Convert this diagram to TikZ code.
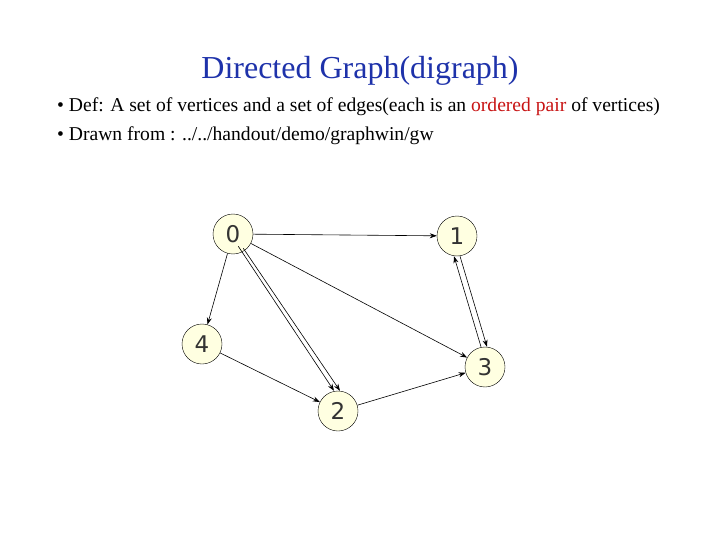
\documentclass[tikz,border=0pt]{standalone}
\usepackage{fontspec}
\setmainfont{Liberation Serif}
\newfontfamily\nodefont{DejaVu Sans}
\usetikzlibrary{arrows.meta}
\definecolor{titleblue}{RGB}{30,50,170}
\definecolor{nodefill}{RGB}{255,255,225}
\definecolor{ordred}{RGB}{200,20,20}
\begin{document}
\begin{tikzpicture}[x=1pt,y=-1pt,
  vert/.style={circle,draw=black,fill=nodefill,minimum size=40pt,inner sep=0pt,font=\nodefont\fontsize{23}{23}\selectfont,text=black!80},
  edge/.style={-{Stealth[length=7pt,width=5pt]},line width=0.6pt},
  txt/.style={anchor=west,inner sep=0pt,font=\fontsize{19.6}{21}\selectfont}]
\useasboundingbox (0,0) rectangle (720,540);
\node[font=\fontsize{32}{34}\selectfont,text=titleblue] (title) at (360,71) {Directed Graph(digraph)};
\node[txt] (b1) at (57,107) {• Def: A set of vertices and a set of edges(each is an \textcolor{ordred}{ordered pair} of vertices)};
\node[txt] (b2) at (57,136) {• Drawn from : ../../handout/demo/graphwin/gw};
\node[vert] (v0) at (233,234) {0};
\node[vert] (v1) at (457,236) {1};
\node[vert] (v4) at (202,344) {4};
\node[vert] (v3) at (485,367) {3};
\node[vert] (v2) at (338,411) {2};
\draw[edge] (v0) -- (v1);
\draw[edge] (v0) -- (v4);
\draw[edge] ([xshift=-3pt]v0.south east) ++(-6,-2) -- ([xshift=-4pt]v2.north);
\draw[edge] ([xshift=2pt]v0.south east) ++(-6,0) -- ([xshift=2pt]v2.north);
\draw[edge] (v0) -- (v3);
\draw[edge] (v4) -- (v2);
\draw[edge] (v2) -- (v3);
\draw[edge] ([xshift=3pt]v1.south) -- ([xshift=2pt]v3.north);
\draw[edge] ([xshift=-4pt]v3.north) -- ([xshift=-3pt]v1.south);
\end{tikzpicture}
\end{document}
